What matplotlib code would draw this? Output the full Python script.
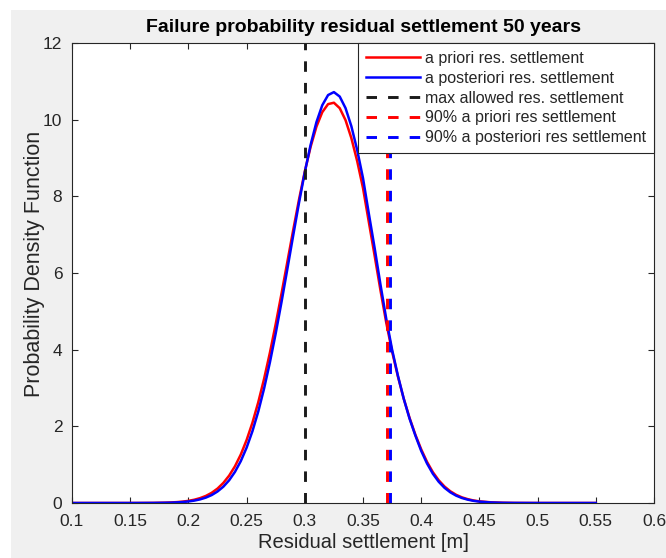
import numpy as np
import matplotlib
matplotlib.use("Agg")
import matplotlib.pyplot as plt
from matplotlib.patches import Rectangle

# residual settlement grid [m] and pdf values for both distributions
settlement = [0.10, 0.15, 0.16, 0.17, 0.18, 0.185, 0.19, 0.195, 0.20, 0.205,
              0.21, 0.215, 0.22, 0.225, 0.23, 0.235, 0.24, 0.245, 0.25, 0.255,
              0.26, 0.265, 0.27, 0.275, 0.28, 0.285, 0.29, 0.295, 0.30, 0.305,
              0.31, 0.315, 0.32, 0.325, 0.33, 0.335, 0.34, 0.345, 0.35, 0.355,
              0.36, 0.365, 0.37, 0.375, 0.38, 0.385, 0.39, 0.395, 0.40, 0.405,
              0.41, 0.415, 0.42, 0.425, 0.43, 0.435, 0.44, 0.445, 0.45, 0.46,
              0.47, 0.48, 0.50, 0.55]

pdf_prior = [0.0, 0.0, 0.001, 0.003, 0.009, 0.015, 0.023, 0.036, 0.056, 0.085,
             0.127, 0.185, 0.266, 0.376, 0.523, 0.714, 0.958, 1.264, 1.642, 2.093,
             2.626, 3.236, 3.918, 4.667, 5.464, 6.288, 7.114, 7.912, 8.648, 9.293,
             9.818, 10.195, 10.406, 10.442, 10.300, 9.987, 9.519, 8.919, 8.216, 7.33,
             6.45, 5.55, 4.70, 3.95, 3.30, 2.72, 2.22, 1.78, 1.40, 1.073,
             0.805, 0.594, 0.430, 0.306, 0.214, 0.147, 0.100, 0.066, 0.043, 0.018,
             0.007, 0.002, 0.0, 0.0]

pdf_post = [0.0, 0.0, 0.001, 0.002, 0.006, 0.009, 0.016, 0.025, 0.040, 0.062,
            0.094, 0.141, 0.207, 0.300, 0.425, 0.593, 0.812, 1.092, 1.443, 1.872,
            2.384, 2.983, 3.666, 4.423, 5.243, 6.102, 6.973, 7.828, 8.630, 9.344,
            9.935, 10.376, 10.642, 10.719, 10.603, 10.301, 9.829, 9.209, 8.475, 7.55,
            6.65, 5.70, 4.80, 4.00, 3.32, 2.72, 2.20, 1.76, 1.36, 1.031,
            0.764, 0.556, 0.397, 0.279, 0.192, 0.130, 0.087, 0.056, 0.036, 0.014,
            0.005, 0.002, 0.0, 0.0]

max_allowed = 0.30
p90_prior = 0.3705
p90_post = 0.3735

labels = ["a priori res. settlement",
          "a posteriori res. settlement",
          "max allowed res. settlement",
          "90% a priori res settlement",
          "90% a posteriori res settlement"]

plt.rcParams["font.family"] = ["Liberation Sans", "DejaVu Sans"]
txt = "#262626"

fig = plt.figure(figsize=(6.66, 5.58), dpi=100)
fig.patch.set_facecolor("white")
# grey window background with a thin white strip at top and left
fig.patches.append(Rectangle((11 / 666, 0), 1, 1 - 10 / 558, transform=fig.transFigure,
                             facecolor="#f0f0f0", edgecolor="none", zorder=-10))

ax = fig.add_axes([72 / 666, 1 - 503 / 558, 582 / 666, 460 / 558])
ax.set_facecolor("white")

dash = (3.6, 3.8)
ax.plot(settlement, pdf_prior, color="#ff0000", linewidth=1.8, label=labels[0])
ax.plot(settlement, pdf_post, color="#0000ff", linewidth=1.8, label=labels[1])
ax.axvline(max_allowed, color="#1a1a1a", linewidth=2.1, dashes=dash, label=labels[2])
ax.axvline(p90_prior, color="#ff0000", linewidth=2.1, dashes=dash, label=labels[3])
ax.axvline(p90_post, color="#0000ff", linewidth=2.1, dashes=dash, label=labels[4])

ax.set_xlim(0.1, 0.6)
ax.set_ylim(0, 12)
ax.set_xticks(np.arange(0.1, 0.601, 0.05))
ax.set_xticklabels(["0.1", "0.15", "0.2", "0.25", "0.3", "0.35", "0.4",
                    "0.45", "0.5", "0.55", "0.6"])
ax.set_yticks(np.arange(0, 13, 2))
ax.tick_params(direction="in", top=True, right=True, length=4, width=0.8,
               labelsize=12.5, colors=txt)
ax.tick_params(axis="x", pad=8)
ax.tick_params(axis="y", pad=7)
for sp in ax.spines.values():
    sp.set_color(txt)
    sp.set_linewidth(0.8)

ax.set_title("Failure probability residual settlement 50 years",
             fontsize=14, fontweight="bold", color="black", pad=8)
ax.set_xlabel("Residual settlement [m]", fontsize=14.5, color=txt, labelpad=3)
ax.set_ylabel("Probability Density Function", fontsize=15.5, color=txt, labelpad=2)
ax.yaxis.set_label_coords(-0.047, 0.52)

leg = ax.legend(loc="upper right", borderaxespad=0, fancybox=False, framealpha=1,
                edgecolor=txt, fontsize=11.5, handlelength=3.4, handletextpad=0.3,
                labelspacing=0.3, borderpad=0.5)
leg.get_frame().set_linewidth(0.8)
for t in leg.get_texts():
    t.set_color(txt)

fig.savefig("out.png", dpi=100, facecolor=fig.get_facecolor())
